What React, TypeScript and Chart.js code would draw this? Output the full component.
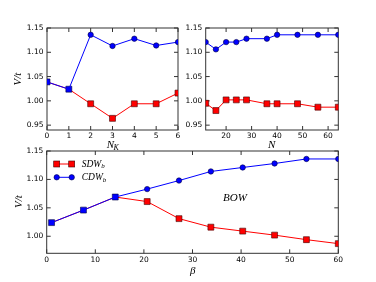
import React, { useEffect, useRef } from "react";
import { Chart, registerables } from "chart.js";
Chart.register(...registerables);

// ---- Panel A: V/t versus N_K ----
const nkValues = [0, 1, 2, 3, 4, 5, 6];
const nkSDW = [1.039, 1.024, 0.994, 0.964, 0.994, 0.994, 1.016];
const nkCDW = [1.039, 1.024, 1.136, 1.113, 1.128, 1.114, 1.121];
const nkXTicks = [0, 1, 2, 3, 4, 5, 6];

// ---- Panel B: V/t versus N ----
const nValues = [12, 16, 20, 24, 28, 36, 40, 48, 56, 64];
const nSDW = [0.995, 0.98, 1.002, 1.002, 1.002, 0.994, 0.994, 0.994, 0.987, 0.987];
const nCDW = [1.121, 1.106, 1.121, 1.121, 1.128, 1.128, 1.136, 1.136, 1.136, 1.136];
const nXTicks = [20, 30, 40, 50, 60];

const topYTicks = [0.95, 1.0, 1.05, 1.1, 1.15];

// ---- Panel C: V/t versus beta ----
const betaValues = [1, 7.56, 14.11, 20.67, 27.22, 33.78, 40.33, 46.89, 53.44, 60];
const betaSDW = [1.024, 1.046, 1.069, 1.061, 1.031, 1.016, 1.009, 1.002, 0.994, 0.987];
const betaCDW = [1.024, 1.046, 1.069, 1.083, 1.098, 1.114, 1.121, 1.128, 1.136, 1.136];
const betaXTicks = [0, 10, 20, 30, 40, 50, 60];
const bottomYTicks = [1.0, 1.05, 1.1, 1.15];

const seriesLabels = ["SDW", "CDW"];
const seriesSub = "b";

const RED = "#ff0000";
const BLUE = "#0000ff";
const TICK_FONT = "DejaVu Sans";
const MATH_FONT = "Liberation Serif";
const CIRCLE_R = 2.7;

type Panel = {
  left: number; top: number; width: number; height: number;
  pad: { top: number; right: number; bottom: number; left: number };
  yWidth: number; xHeight: number;
  xs: number[]; sdw: number[]; cdw: number[];
  xMin: number; xMax: number; yMin: number; yMax: number;
  xTicks: number[]; yTicks: number[];
  xTitle: { main: string; sub?: string; x: number; y: number };
  yTitle: { x: number; y: number };
  legend?: { x: number; y: number; dy: number };
  note?: { text: string; x: number; y: number };
};

const panels: Panel[] = [
  {
    left: 0, top: 0, width: 190, height: 160,
    pad: { top: 28, right: 12, bottom: 0, left: 0 },
    yWidth: 47, xHeight: 30,
    xs: nkValues, sdw: nkSDW, cdw: nkCDW,
    xMin: 0, xMax: 6, yMin: 0.94, yMax: 1.15,
    xTicks: nkXTicks, yTicks: topYTicks,
    xTitle: { main: "N", sub: "K", x: 113, y: 145 },
    yTitle: { x: 18, y: 79 },
  },
  {
    left: 180, top: 0, width: 196, height: 160,
    pad: { top: 28, right: 37.7, bottom: 0, left: 0 },
    yWidth: 25.7, xHeight: 30,
    xs: nValues, sdw: nSDW, cdw: nCDW,
    xMin: 12, xMax: 64, yMin: 0.94, yMax: 1.15,
    xTicks: nXTicks, yTicks: topYTicks,
    xTitle: { main: "N", x: 271.7, y: 145 },
    yTitle: { x: -100, y: -100 },
  },
  {
    left: 0, top: 140, width: 376, height: 142,
    pad: { top: 11, right: 37.7, bottom: 0, left: 0 },
    yWidth: 46.7, xHeight: 28.7,
    xs: betaValues, sdw: betaSDW, cdw: betaCDW,
    xMin: 0, xMax: 60, yMin: 0.97, yMax: 1.15,
    xTicks: betaXTicks, yTicks: bottomYTicks,
    xTitle: { main: "\u03b2", x: 192.7, y: 271 },
    yTitle: { x: 19, y: 201.5 },
    legend: { x: 56.7, y: 164, dy: 13.3 },
    note: { text: "BOW", x: 235, y: 198 },
  },
];

function drawSquare(ctx: CanvasRenderingContext2D, x: number, y: number, fill: string) {
  ctx.fillStyle = fill;
  ctx.fillRect(x - 3, y - 3, 6, 6);
  ctx.strokeStyle = "#400000";
  ctx.lineWidth = 0.6;
  ctx.strokeRect(x - 3, y - 3, 6, 6);
}
function drawCircle(ctx: CanvasRenderingContext2D, x: number, y: number, fill: string) {
  ctx.beginPath();
  ctx.arc(x, y, CIRCLE_R, 0, Math.PI * 2);
  ctx.fillStyle = fill;
  ctx.fill();
  ctx.strokeStyle = "#000040";
  ctx.lineWidth = 0.6;
  ctx.stroke();
}

function PanelChart({ p }: { p: Panel }) {
  const ref = useRef<HTMLCanvasElement | null>(null);
  useEffect(() => {
    if (!ref.current) return;
    const overlap = p.sdw.map((v, i) => Math.abs(v - p.cdw[i]) < 1e-9);
    const frame = {
      id: "frame",
      beforeDatasetsDraw(chart: any) {
        const { ctx, chartArea: a } = chart;
        ctx.save();
        ctx.strokeStyle = "#333";
        ctx.lineWidth = 1;
        ctx.strokeRect(a.left, a.top, a.right - a.left, a.bottom - a.top);
        const xs = chart.scales.x, ys = chart.scales.y;
        ctx.beginPath();
        p.xTicks.forEach((v) => {
          const px = xs.getPixelForValue(v);
          ctx.moveTo(px, a.bottom); ctx.lineTo(px, a.bottom - 4);
          ctx.moveTo(px, a.top); ctx.lineTo(px, a.top + 4);
        });
        p.yTicks.forEach((v) => {
          const py = ys.getPixelForValue(v);
          ctx.moveTo(a.left, py); ctx.lineTo(a.left + 4, py);
          ctx.moveTo(a.right, py); ctx.lineTo(a.right - 4, py);
        });
        ctx.stroke();
        ctx.restore();
      },
      afterDraw(chart: any) {
        const ctx: CanvasRenderingContext2D = chart.ctx;
        ctx.save();
        ctx.fillStyle = "#000";
        ctx.textBaseline = "middle";
        const tx = p.xTitle.x - p.left, ty = p.xTitle.y - p.top;
        ctx.font = `italic 11px "${MATH_FONT}"`;
        if (p.xTitle.sub) {
          const w1 = ctx.measureText(p.xTitle.main).width;
          ctx.font = `italic 8px "${MATH_FONT}"`;
          const w2 = ctx.measureText(p.xTitle.sub).width;
          const sx = tx - (w1 + w2) / 2;
          ctx.font = `italic 11px "${MATH_FONT}"`;
          ctx.textAlign = "left";
          ctx.fillText(p.xTitle.main, sx, ty);
          ctx.font = `italic 8px "${MATH_FONT}"`;
          ctx.fillText(p.xTitle.sub, sx + w1 - 0.5, ty + 3);
        } else {
          ctx.textAlign = "center";
          ctx.fillText(p.xTitle.main, tx, ty);
        }
        ctx.save();
        ctx.translate(p.yTitle.x - p.left, p.yTitle.y - p.top);
        ctx.rotate(-Math.PI / 2);
        ctx.textAlign = "center";
        ctx.font = `italic 11px "${MATH_FONT}"`;
        ctx.fillText("V/t", 0, 0);
        ctx.restore();
        if (p.legend) {
          const L = p.legend;
          seriesLabels.forEach((lab, i) => {
            const y = L.y - p.top + i * L.dy;
            const x0 = L.x - p.left, x1 = x0 + 15;
            const col = i === 0 ? RED : BLUE;
            ctx.strokeStyle = col;
            ctx.lineWidth = 1;
            ctx.beginPath(); ctx.moveTo(x0, y); ctx.lineTo(x1, y); ctx.stroke();
            if (i === 0) { drawSquare(ctx, x0, y, RED); drawSquare(ctx, x1, y, RED); }
            else { drawCircle(ctx, x0, y, BLUE); drawCircle(ctx, x1, y, BLUE); }
            ctx.fillStyle = "#000";
            ctx.textAlign = "left";
            ctx.font = `italic 9.5px "${MATH_FONT}"`;
            ctx.fillText(lab, x1 + 10, y);
            const w = ctx.measureText(lab).width;
            ctx.font = `italic 7px "${MATH_FONT}"`;
            ctx.fillText(seriesSub, x1 + 10 + w, y + 2.5);
          });
        }
        if (p.note) {
          ctx.fillStyle = "#000";
          ctx.textAlign = "center";
          ctx.font = `italic 11px "${MATH_FONT}"`;
          ctx.fillText(p.note.text, p.note.x - p.left, p.note.y - p.top);
        }
        ctx.restore();
      },
    };
    const chart = new Chart(ref.current, {
      type: "line",
      data: {
        datasets: [
          {
            label: seriesLabels[0],
            data: p.xs.map((x, i) => ({ x, y: p.sdw[i] })),
            borderColor: RED,
            backgroundColor: RED,
            borderWidth: 1,
            pointStyle: "rect",
            pointRadius: 4.2,
            pointBackgroundColor: overlap.map((o) => (o ? BLUE : RED)),
            pointBorderColor: overlap.map((o) => (o ? "#000040" : "#400000")),
            pointBorderWidth: 0.6,
            order: 2,
          },
          {
            label: seriesLabels[1],
            data: p.xs.map((x, i) => ({ x, y: p.cdw[i] })),
            borderColor: BLUE,
            backgroundColor: BLUE,
            borderWidth: 1,
            pointStyle: "circle",
            pointRadius: overlap.map((o) => (o ? 0 : CIRCLE_R)),
            pointBackgroundColor: BLUE,
            pointBorderColor: "#000040",
            pointBorderWidth: 0.6,
            order: 1,
          },
        ],
      },
      options: {
        animation: false,
        responsive: false,
        maintainAspectRatio: false,
        devicePixelRatio: 1,
        layout: { padding: p.pad },
        plugins: { legend: { display: false }, tooltip: { enabled: false } },
        scales: {
          x: {
            type: "linear",
            min: p.xMin,
            max: p.xMax,
            grid: { display: false, drawTicks: false },
            border: { display: false },
            afterBuildTicks: (s: any) => { s.ticks = p.xTicks.map((v) => ({ value: v })); },
            afterFit: (s: any) => { s.height = p.xHeight; },
            ticks: {
              padding: 2,
              maxRotation: 0,
              autoSkip: false,
              color: "#000",
              font: { family: TICK_FONT, size: 7.5 },
              callback: (v: any) => String(v),
            },
          },
          y: {
            type: "linear",
            min: p.yMin,
            max: p.yMax,
            grid: { display: false, drawTicks: false },
            border: { display: false },
            afterBuildTicks: (s: any) => { s.ticks = p.yTicks.map((v) => ({ value: v })); },
            afterFit: (s: any) => { s.width = p.yWidth; },
            ticks: {
              padding: 3.5,
              autoSkip: false,
              color: "#000",
              font: { family: TICK_FONT, size: 7.5 },
              callback: (v: any) => Number(v).toFixed(2),
            },
          },
        },
      },
      plugins: [frame],
    } as any);
    return () => chart.destroy();
  }, [p]);
  return (
    <canvas
      ref={ref}
      width={p.width}
      height={p.height}
      style={{ position: "absolute", left: p.left, top: p.top, width: p.width, height: p.height }}
    />
  );
}

export default function App() {
  return (
    <div style={{ position: "absolute", left: 0, top: 0, width: 376, height: 282, background: "#fff", overflow: "hidden" }}>
      {panels.map((p, i) => (
        <PanelChart key={i} p={p} />
      ))}
    </div>
  );
}
